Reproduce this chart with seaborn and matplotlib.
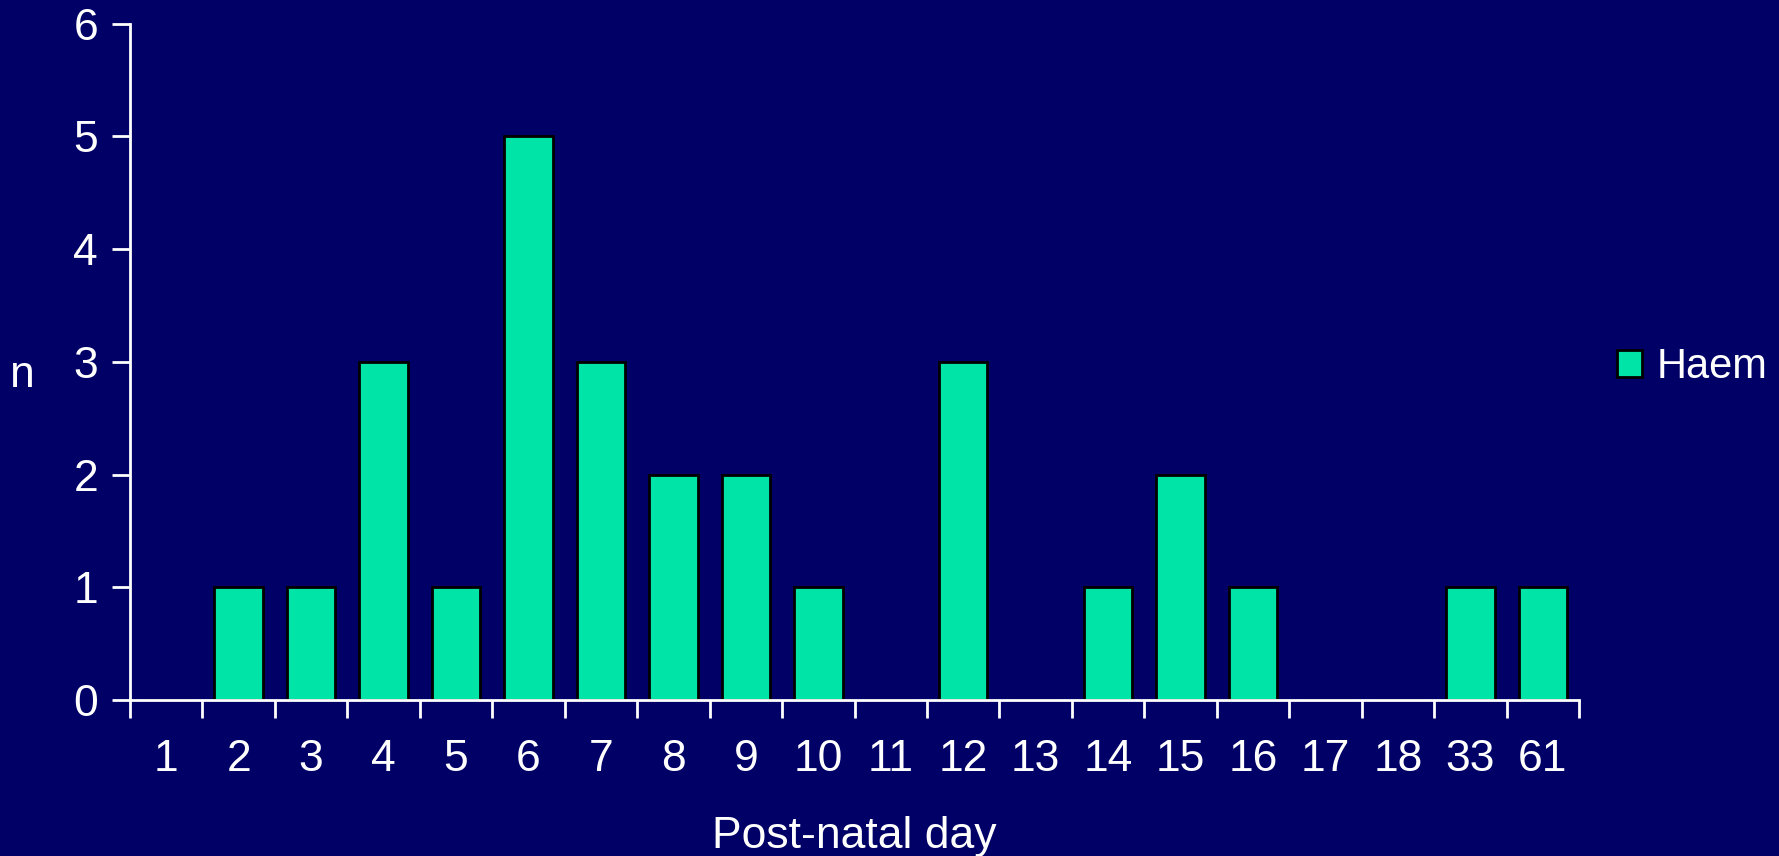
import matplotlib
matplotlib.use("Agg")
import matplotlib.pyplot as plt
from matplotlib.ticker import FixedLocator
import seaborn as sns
import pandas as pd

# Haemorrhage cases per post-natal day
days = ["1", "2", "3", "4", "5", "6", "7", "8", "9", "10",
        "11", "12", "13", "14", "15", "16", "17", "18", "33", "61"]
counts = [0, 1, 1, 3, 1, 5, 3, 2, 2, 1, 0, 3, 0, 1, 2, 1, 0, 0, 1, 1]
series_name = "Haem"
y_ticks = [0, 1, 2, 3, 4, 5, 6]

BG = "#000066"
BAR = "#00E4A8"
FG = "white"

sns.set_theme(style="ticks")
plt.rcParams["font.family"] = ["Liberation Sans", "DejaVu Sans"]

df = pd.DataFrame({"day": days, "n": counts})

fig = plt.figure(figsize=(17.79, 8.56), dpi=100, facecolor=BG)
ax = fig.add_axes([130 / 1779, 1 - 700 / 856, (1579 - 130) / 1779, (700 - 23.7) / 856])
ax.set_facecolor(BG)

sns.barplot(data=df, x="day", y="n", order=days, color=BAR, width=0.67,
            edgecolor="black", linewidth=2, saturation=1, label=series_name, ax=ax)

ax.set_xlim(-0.5, len(days) - 0.5)
ax.set_ylim(0, 6)
ax.set_yticks(y_ticks)

for side in ("top", "right"):
    ax.spines[side].set_visible(False)
for side in ("left", "bottom"):
    ax.spines[side].set_color(FG)
    ax.spines[side].set_linewidth(2)

fs = 32
ax.tick_params(axis="y", colors=FG, labelsize=fs, length=13, width=2, pad=10, direction="out")
ax.tick_params(axis="x", which="major", colors=FG, labelsize=fs, length=0, pad=28)
ax.xaxis.set_minor_locator(FixedLocator([i - 0.5 for i in range(len(days) + 1)]))
ax.tick_params(axis="x", which="minor", colors=FG, length=13, width=2, direction="out")

ax.set_xlabel("Post-natal day", color=FG, fontsize=fs, labelpad=26)
ax.set_ylabel("n", color=FG, fontsize=fs, rotation=0, va="center", ha="center")
ax.yaxis.set_label_coords(-0.074, 0.48)

leg_fs = 30
leg = ax.legend(loc="center left", bbox_to_anchor=(1617 / 1779, 1 - 367 / 856),
                bbox_transform=fig.transFigure, frameon=False, fontsize=leg_fs,
                handlelength=0.6, handleheight=0.6, handletextpad=0.34, borderpad=0,
                borderaxespad=0)
for t in leg.get_texts():
    t.set_color(FG)

fig.savefig("out.png", dpi=100, facecolor=BG)
